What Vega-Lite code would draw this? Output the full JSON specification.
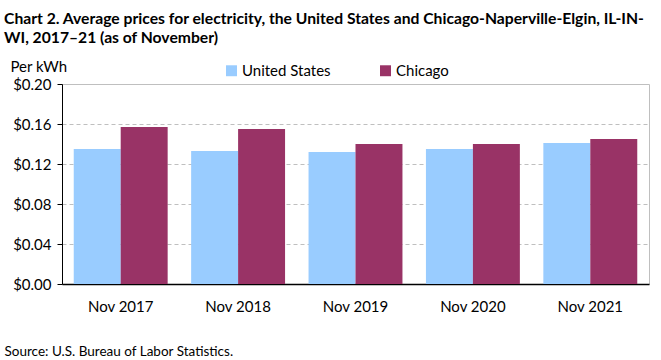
{
  "$schema": "https://vega.github.io/schema/vega-lite/v6.json",
  "autosize": {"type": "none"},
  "width": 587,
  "height": 200,
  "padding": {"left": 62, "top": 84, "right": 12, "bottom": 76},
  "background": "white",
  "title": {
    "text": ["Chart 2. Average prices for electricity, the United States and Chicago-Naperville-Elgin, IL-IN-", "WI, 2017–21 (as of November)"],
    "anchor": "start",
    "frame": "group",
    "dx": -58,
    "font": "Lato",
    "fontSize": 15.7,
    "fontWeight": "bold",
    "lineHeight": 19,
    "color": "#000000",
    "offset": 12
  },
  "config": {
    "font": "Lato",
    "view": {"stroke": "#bfbfbf", "strokeWidth": 1}
  },
  "data": {
    "values": [
      {"period": "Nov 2017", "area": "United States", "price": 0.135},
      {"period": "Nov 2017", "area": "Chicago", "price": 0.157},
      {"period": "Nov 2018", "area": "United States", "price": 0.133},
      {"period": "Nov 2018", "area": "Chicago", "price": 0.155},
      {"period": "Nov 2019", "area": "United States", "price": 0.132},
      {"period": "Nov 2019", "area": "Chicago", "price": 0.140},
      {"period": "Nov 2020", "area": "United States", "price": 0.135},
      {"period": "Nov 2020", "area": "Chicago", "price": 0.140},
      {"period": "Nov 2021", "area": "United States", "price": 0.141},
      {"period": "Nov 2021", "area": "Chicago", "price": 0.145}
    ]
  },
  "mark": {"type": "bar"},
  "encoding": {
    "x": {
      "field": "period",
      "type": "nominal",
      "sort": null,
      "scale": {"paddingInner": 0.2, "paddingOuter": 0.1},
      "axis": {
        "labelAngle": 0,
        "labelFontSize": 15,
        "labelColor": "#000000",
        "labelPadding": 15,
        "ticks": false,
        "domainColor": "#000000",
        "domainWidth": 1.5,
        "title": "Source: U.S. Bureau of Labor Statistics.",
        "titleFontSize": 13.5,
        "titleFontWeight": "normal",
        "titleColor": "#000000",
        "titleAlign": "left",
        "titleBaseline": "alphabetic",
        "titleAnchor": "start",
        "titleX": -58,
        "titleY": 71
      }
    },
    "xOffset": {
      "field": "area",
      "type": "nominal",
      "sort": ["United States", "Chicago"],
      "scale": {"paddingInner": 0, "paddingOuter": 0}
    },
    "y": {
      "field": "price",
      "type": "quantitative",
      "scale": {"domain": [0, 0.2], "nice": false},
      "axis": {
        "values": [0, 0.04, 0.08, 0.12, 0.16, 0.2],
        "format": "$.2f",
        "labelFontSize": 15,
        "labelColor": "#000000",
        "labelPadding": 6,
        "tickSize": 5,
        "tickColor": "#000000",
        "domainColor": "#000000",
        "grid": true,
        "gridColor": "#bfbfbf",
        "gridDash": [4, 3],
        "title": "Per kWh",
        "titleAngle": 0,
        "titleAlign": "left",
        "titleBaseline": "alphabetic",
        "titleX": -52,
        "titleY": -13,
        "titleFontSize": 15,
        "titleFontWeight": "normal",
        "titleColor": "#000000"
      }
    },
    "color": {
      "field": "area",
      "type": "nominal",
      "sort": ["United States", "Chicago"],
      "scale": {"domain": ["United States", "Chicago"], "range": ["#99ccff", "#993366"]},
      "legend": {
        "orient": "none",
        "direction": "horizontal",
        "legendX": 162,
        "legendY": -21,
        "title": null,
        "symbolType": "square",
        "symbolSize": 120,
        "symbolStrokeWidth": 0,
        "labelFontSize": 15,
        "labelColor": "#000000",
        "labelOffset": 3,
        "columnPadding": 47
      }
    }
  }
}
